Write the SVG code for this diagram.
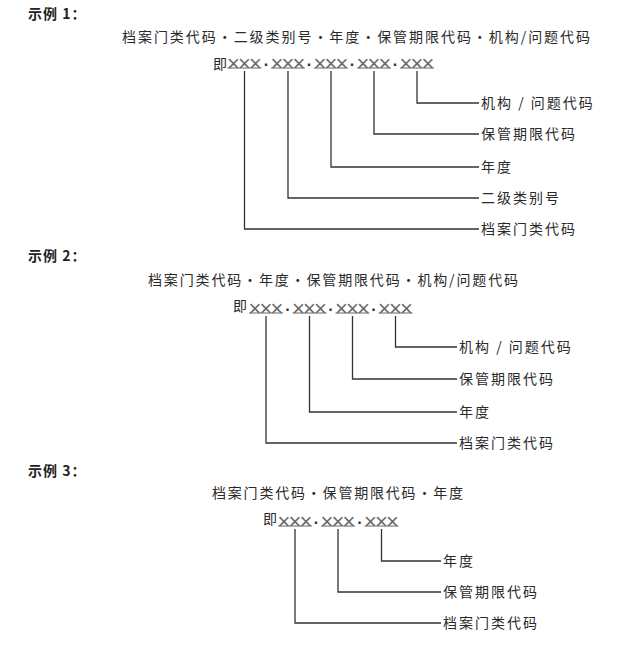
<svg xmlns="http://www.w3.org/2000/svg" width="640" height="645" viewBox="0 0 640 645">
<style>
.bg{fill:#ffffff}
.hd{font-family:"Noto Sans CJK SC","Noto Sans",sans-serif;font-size:14px;font-weight:bold;fill:#222;letter-spacing:1px}
.tt{font-family:"Noto Sans CJK SC","Noto Sans",sans-serif;font-size:14px;fill:#2a2a2a;letter-spacing:2px}
.lb{font-family:"Noto Sans CJK SC","Noto Sans",sans-serif;font-size:14px;fill:#2a2a2a;letter-spacing:2px}
.row{font-family:"Liberation Sans","DejaVu Sans",sans-serif}
.ji{font-family:"Noto Sans CJK SC","Noto Sans",serif;font-size:14px;fill:#2a2a2a}
.xx{font-family:"Liberation Sans","DejaVu Sans",sans-serif;font-size:22px;fill:#6a6a6a;letter-spacing:-1.8px}
.dt{font-family:"Liberation Sans","DejaVu Sans",sans-serif;font-size:16px;font-weight:bold;fill:#333;letter-spacing:0}
.ul{stroke:#666;stroke-width:1}
.cn{fill:none;stroke:#333;stroke-width:1.3}
</style>
<rect class="bg" x="0" y="0" width="640" height="645"/>

<!-- Example 1 -->
<g id="ex1-header"><text class="hd" x="28" y="19">示例 1：</text></g>
<g id="ex1-title"><text class="tt" x="122" y="42" textLength="470" lengthAdjust="spacing">档案门类代码・二级类别号・年度・保管期限代码・机构/问题代码</text></g>
<g id="ex1-code">
<text class="row" y="70.5"><tspan class="ji" x="213" y="69">即</tspan><tspan class="xx" x="227" y="70.5">×××</tspan><tspan class="dt" x="263.8" y="70">·</tspan><tspan class="xx" x="270.5" y="70.5">×××</tspan><tspan class="dt" x="306.8" y="70">·</tspan><tspan class="xx" x="313.5" y="70.5">×××</tspan><tspan class="dt" x="349.8" y="70">·</tspan><tspan class="xx" x="356.5" y="70.5">×××</tspan><tspan class="dt" x="392.8" y="70">·</tspan><tspan class="xx" x="399.5" y="70.5">×××</tspan></text>
<line class="ul" x1="227.5" y1="68" x2="261.5" y2="68"/>
<line class="ul" x1="271" y1="68" x2="305" y2="68"/>
<line class="ul" x1="314" y1="68" x2="348" y2="68"/>
<line class="ul" x1="357" y1="68" x2="391" y2="68"/>
<line class="ul" x1="400" y1="68" x2="434" y2="68"/>
</g>
<g id="ex1-labels">
<text class="lb" x="481" y="108">机构 / 问题代码</text>
<text class="lb" x="481" y="139">保管期限代码</text>
<text class="lb" x="481" y="172">年度</text>
<text class="lb" x="481" y="203">二级类别号</text>
<text class="lb" x="481" y="234">档案门类代码</text>
</g>

<!-- Example 2 -->
<g id="ex2-header"><text class="hd" x="28" y="261">示例 2：</text></g>
<g id="ex2-title"><text class="tt" x="148" y="285" textLength="372" lengthAdjust="spacing">档案门类代码・年度・保管期限代码・机构/问题代码</text></g>
<g id="ex2-code">
<text class="row" y="315.5"><tspan class="ji" x="233" y="311">即</tspan><tspan class="xx" x="248.5" y="315.5">×××</tspan><tspan class="dt" x="285.3" y="315">·</tspan><tspan class="xx" x="292" y="315.5">×××</tspan><tspan class="dt" x="328.3" y="315">·</tspan><tspan class="xx" x="335" y="315.5">×××</tspan><tspan class="dt" x="371.3" y="315">·</tspan><tspan class="xx" x="378" y="315.5">×××</tspan></text>
<line class="ul" x1="249" y1="313" x2="283" y2="313"/>
<line class="ul" x1="292.5" y1="313" x2="326.5" y2="313"/>
<line class="ul" x1="335.5" y1="313" x2="369.5" y2="313"/>
<line class="ul" x1="378.5" y1="313" x2="412.5" y2="313"/>
</g>
<g id="ex2-labels">
<text class="lb" x="459" y="352">机构 / 问题代码</text>
<text class="lb" x="459" y="384">保管期限代码</text>
<text class="lb" x="459" y="417">年度</text>
<text class="lb" x="459" y="448">档案门类代码</text>
</g>

<!-- Example 3 -->
<g id="ex3-header"><text class="hd" x="28" y="476">示例 3：</text></g>
<g id="ex3-title"><text class="tt" x="212" y="498" textLength="253" lengthAdjust="spacing">档案门类代码・保管期限代码・年度</text></g>
<g id="ex3-code">
<text class="row" y="528.5"><tspan class="ji" x="263" y="524">即</tspan><tspan class="xx" x="277.5" y="528.5">×××</tspan><tspan class="dt" x="313.8" y="528">·</tspan><tspan class="xx" x="320.5" y="528.5">×××</tspan><tspan class="dt" x="357.3" y="528">·</tspan><tspan class="xx" x="364" y="528.5">×××</tspan></text>
<line class="ul" x1="278" y1="526" x2="312" y2="526"/>
<line class="ul" x1="321" y1="526" x2="355" y2="526"/>
<line class="ul" x1="364.5" y1="526" x2="398.5" y2="526"/>
</g>
<g id="ex3-labels">
<text class="lb" x="443" y="566">年度</text>
<text class="lb" x="443" y="597">保管期限代码</text>
<text class="lb" x="443" y="628">档案门类代码</text>
</g>

<g id="connectors">
<polyline class="cn" points="417,71 417,103 479,103"/>
<polyline class="cn" points="374,71 374,134 479,134"/>
<polyline class="cn" points="331,71 331,167 479,167"/>
<polyline class="cn" points="288,71 288,198 479,198"/>
<polyline class="cn" points="244.5,71 244.5,229 479,229"/>

<polyline class="cn" points="395.5,316 395.5,347 457,347"/>
<polyline class="cn" points="352.5,316 352.5,379 457,379"/>
<polyline class="cn" points="309.5,316 309.5,412 457,412"/>
<polyline class="cn" points="266,316 266,443 457,443"/>

<polyline class="cn" points="381.5,529 381.5,561 441,561"/>
<polyline class="cn" points="338,529 338,592 441,592"/>
<polyline class="cn" points="295,529 295,623 441,623"/>
</g>
</svg>
